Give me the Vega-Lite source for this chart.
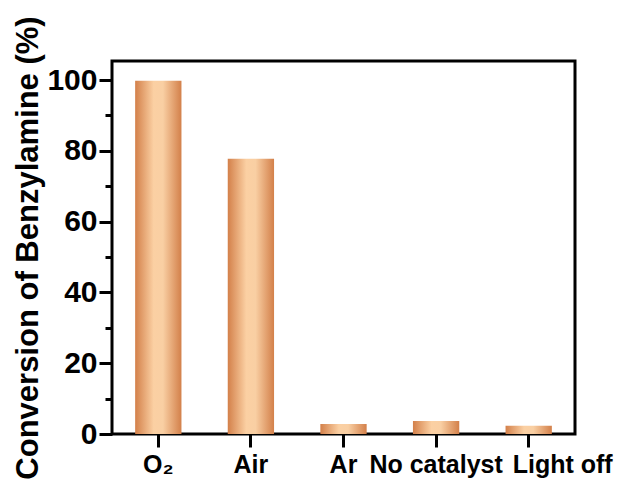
{
  "$schema": "https://vega.github.io/schema/vega-lite/v6.json",
  "width": 463,
  "height": 373,
  "autosize": {"type": "none"},
  "padding": {"left": 112, "top": 61, "right": 42, "bottom": 47},
  "background": "white",
  "config": {
    "font": "Liberation Sans",
    "view": {"stroke": "black", "strokeWidth": 3},
    "axis": {"grid": false, "domainColor": "black", "domainWidth": 3, "tickColor": "black", "tickWidth": 3, "labelColor": "black", "titleColor": "black", "labelFontWeight": "bold", "titleFontWeight": "bold"}
  },
  "data": {
    "values": [
      {"condition": "O₂", "conversion": 99.8},
      {"condition": "Air", "conversion": 77.8},
      {"condition": "Ar", "conversion": 2.8},
      {"condition": "No catalyst", "conversion": 3.7},
      {"condition": "Light off", "conversion": 2.3}
    ]
  },
  "mark": {
    "type": "bar",
    "color": {
      "gradient": "linear",
      "x1": 0, "y1": 0, "x2": 1, "y2": 0,
      "stops": [
        {"offset": 0, "color": "#d3804a"},
        {"offset": 0.4, "color": "#fbd0a3"},
        {"offset": 0.6, "color": "#f9cfa3"},
        {"offset": 1, "color": "#d3804a"}
      ]
    }
  },
  "encoding": {
    "x": {
      "field": "condition",
      "type": "nominal",
      "sort": null,
      "scale": {"paddingInner": 0.5, "paddingOuter": 0.25},
      "axis": {
        "title": null,
        "labelAngle": 0,
        "labelFontSize": 25,
        "tickSize": 13,
        "labelPadding": 5,
        "domain": false,
        "labelOffset": {"condition": {"test": "datum.value === 'Light off'", "value": 34}, "value": 0}
      }
    },
    "y": {
      "field": "conversion",
      "type": "quantitative",
      "scale": {"domain": [0, 105.4], "nice": false},
      "axis": {
        "title": "Conversion of Benzylamine (%)",
        "titleFontSize": 31,
        "titlePadding": 2,
        "labelFontSize": 30,
        "values": [0, 10, 20, 30, 40, 50, 60, 70, 80, 90, 100],
        "labelExpr": "datum.value % 20 === 0 ? datum.label : ''",
        "tickSize": {"condition": {"test": "datum.value % 20 === 0", "value": 13}, "value": 7},
        "labelPadding": 2,
        "domain": false
      }
    }
  }
}
